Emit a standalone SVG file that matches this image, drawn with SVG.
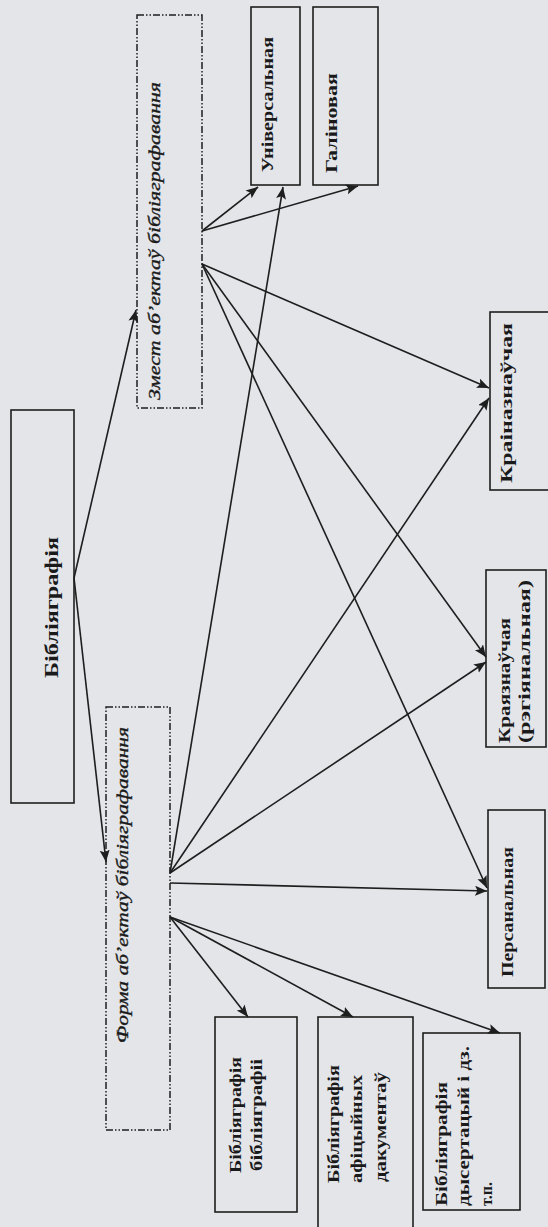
<svg xmlns="http://www.w3.org/2000/svg" width="548" height="1227" viewBox="0 0 548 1227">
<style>
.bg{fill:#e3e5e9}
.box{fill:none;stroke:#1e1e1e;stroke-width:1.6}
.dbox{fill:none;stroke:#1e1e1e;stroke-width:1.5;stroke-dasharray:7 2 1.5 2 1.5 2}
.lbl{font-family:"Liberation Serif","Times New Roman",serif;font-weight:bold;font-size:16px;fill:#1a1a1a}
.big{font-size:19px}
.it{font-family:"Liberation Serif","Times New Roman",serif;font-style:italic;font-size:17px;fill:#1a1a1a;stroke:#1a1a1a;stroke-width:0.35}
.con path{fill:none;stroke:#1e1e1e;stroke-width:1.6;marker-end:url(#ah)}
</style>
<defs>
<marker id="ah" markerUnits="userSpaceOnUse" markerWidth="13" markerHeight="11" refX="12" refY="5" orient="auto">
<path d="M0,0 L12,5 L0,10 L2.5,5 z" fill="#1e1e1e"/>
</marker>
</defs>
<rect class="bg" x="0" y="0" width="548" height="1227"/>

<g id="connectors" class="con">
<path d="M74,578 L136,310"/>
<path d="M74,578 L106,862"/>
<path d="M202,231 L258,187"/>
<path d="M202,231 L358,186"/>
<path d="M202,264 L489,388"/>
<path d="M202,264 L486,657"/>
<path d="M202,264 L487,888"/>
<path d="M170,873 L283,187"/>
<path d="M170,873 L489,398"/>
<path d="M170,873 L486,662"/>
<path d="M170,883 L487,891"/>
<path d="M170,917 L248,1017"/>
<path d="M170,917 L353,1017"/>
<path d="M170,917 L500,1033"/>
</g>

<g id="bibliyagrafiya">
<rect class="box" x="11" y="410" width="63" height="393"/>
<text class="lbl big" transform="translate(58,678) rotate(-90)" textLength="141" lengthAdjust="spacingAndGlyphs">Бібліяграфія</text>
</g>

<g id="zmest">
<rect class="dbox" x="137" y="15" width="65" height="393"/>
<text class="it" transform="translate(160,400) rotate(-90)" textLength="318" lengthAdjust="spacingAndGlyphs">Змест аб’ектаў бібліяграфавання</text>
</g>

<g id="forma">
<rect class="dbox" x="106" y="707" width="64" height="423"/>
<text class="it" transform="translate(127.5,1043) rotate(-90)" textLength="316" lengthAdjust="spacingAndGlyphs">Форма аб’ектаў бібліяграфавання</text>
</g>

<g id="universalnaya">
<rect class="box" x="251" y="7" width="49" height="178"/>
<text class="lbl" transform="translate(273,172) rotate(-90)" textLength="135" lengthAdjust="spacingAndGlyphs">Універсальная</text>
</g>

<g id="galinovaya">
<rect class="box" x="313" y="7" width="65" height="178"/>
<text class="lbl" transform="translate(337,173) rotate(-90)" textLength="100" lengthAdjust="spacingAndGlyphs">Галіновая</text>
</g>

<g id="krainaznauchaya">
<rect class="box" x="490" y="312" width="62" height="178"/>
<text class="lbl" transform="translate(512,483) rotate(-90)" textLength="160" lengthAdjust="spacingAndGlyphs">Краіназнаўчая</text>
</g>

<g id="krayaznauchaya">
<rect class="box" x="486" y="570" width="60" height="177"/>
<text class="lbl" transform="translate(510,743) rotate(-90)" textLength="125" lengthAdjust="spacingAndGlyphs">Краязнаўчая</text>
<text class="lbl" transform="translate(530,743) rotate(-90)" textLength="163" lengthAdjust="spacingAndGlyphs">(рэгіянальная)</text>
</g>

<g id="personalnaya">
<rect class="box" x="488" y="810" width="57" height="178"/>
<text class="lbl" transform="translate(513,977) rotate(-90)" textLength="130" lengthAdjust="spacingAndGlyphs">Персанальная</text>
</g>

<g id="bib-bib">
<rect class="box" x="215" y="1017" width="82" height="195"/>
<text class="lbl" transform="translate(241,1173) rotate(-90)" textLength="116" lengthAdjust="spacingAndGlyphs">Бібліяграфія</text>
<text class="lbl" transform="translate(262,1171) rotate(-90)" textLength="112" lengthAdjust="spacingAndGlyphs">бібліяграфіі</text>
</g>

<g id="bib-afic">
<rect class="box" x="318" y="1017" width="95" height="220"/>
<text class="lbl" transform="translate(339,1183) rotate(-90)" textLength="118" lengthAdjust="spacingAndGlyphs">Бібліяграфія</text>
<text class="lbl" transform="translate(362,1183) rotate(-90)" textLength="108" lengthAdjust="spacingAndGlyphs">афіцыйных</text>
<text class="lbl" transform="translate(386,1182) rotate(-90)" textLength="110" lengthAdjust="spacingAndGlyphs">дакументаў</text>
</g>

<g id="bib-dys">
<rect class="box" x="423" y="1033" width="97" height="177"/>
<text class="lbl" transform="translate(447,1206) rotate(-90)" textLength="124" lengthAdjust="spacingAndGlyphs">Бібліяграфія</text>
<text class="lbl" transform="translate(469,1206) rotate(-90)" textLength="160" lengthAdjust="spacingAndGlyphs">дысертацый і дз.</text>
<text class="lbl" transform="translate(492,1206) rotate(-90)" textLength="24" lengthAdjust="spacingAndGlyphs">т.п.</text>
</g>
</svg>
